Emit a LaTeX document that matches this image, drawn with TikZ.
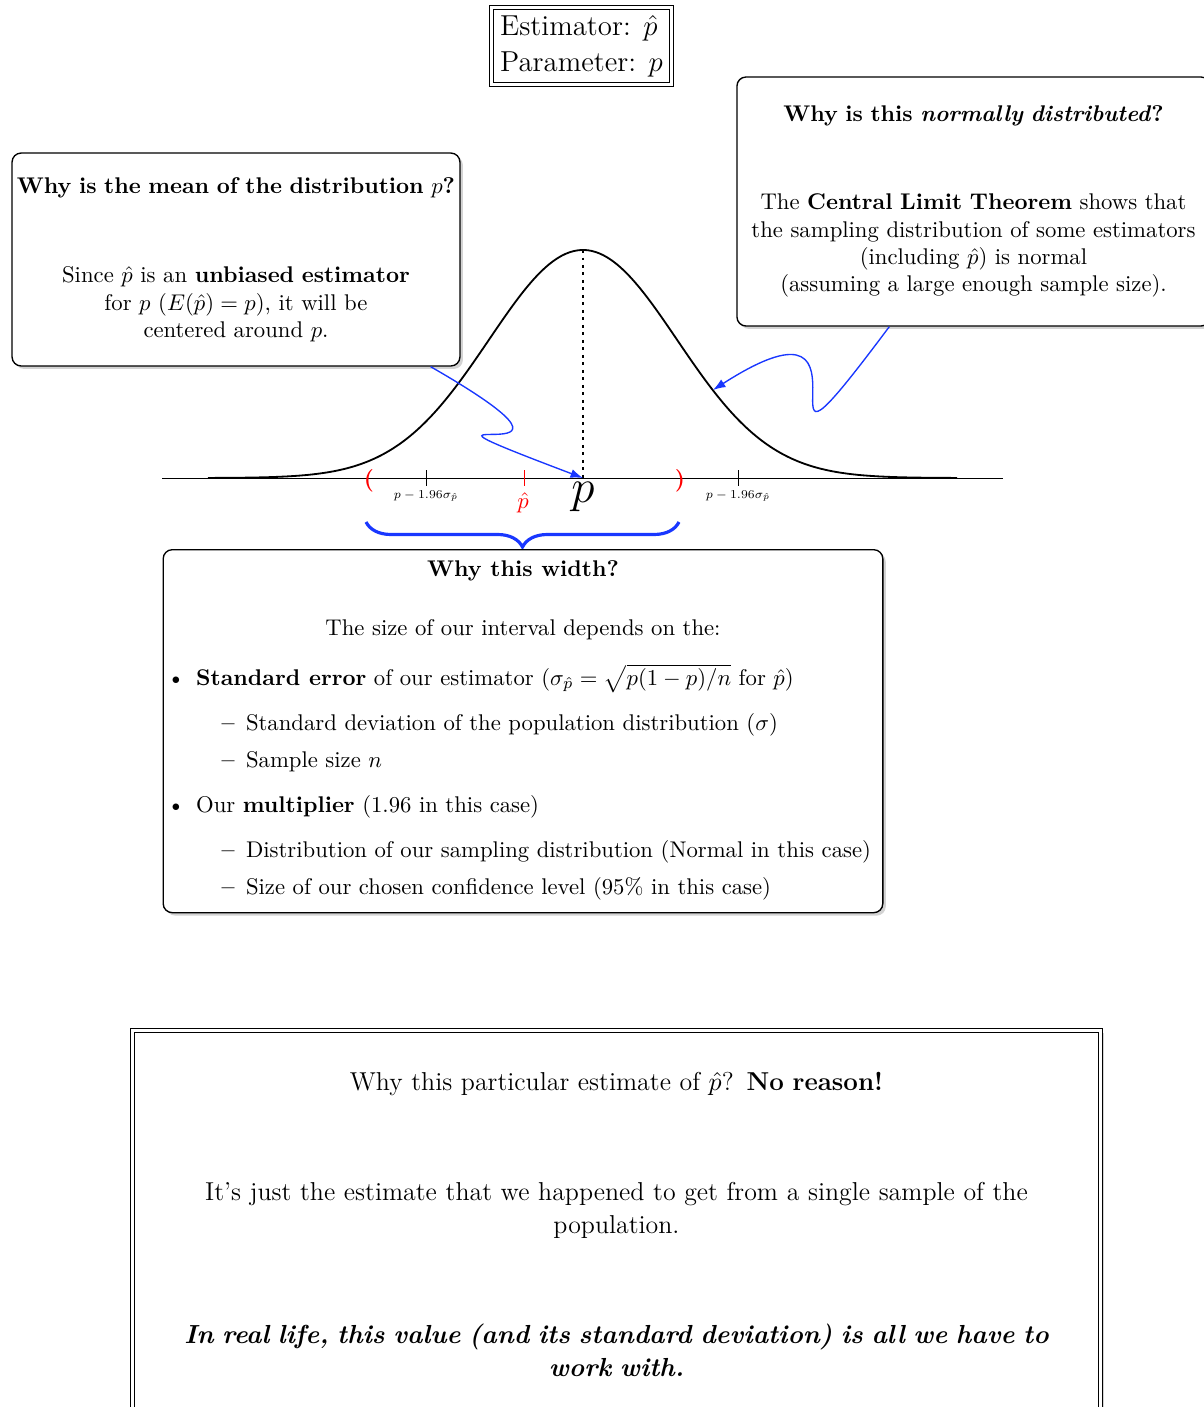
\documentclass[tikz,border=0pt]{standalone}
\usepackage{fix-cm}
\usepackage{amsmath}
\usepackage{tikz}
\usetikzlibrary{shadows,calc,decorations.pathreplacing,arrows.meta}

\definecolor{explainblue}{RGB}{25,55,255}

\begin{document}
\begin{tikzpicture}[x=0.4405pt, y=-0.4405pt,
    infobox/.style={draw, semithick, rounded corners=4pt, fill=white,
      drop shadow={opacity=0.35, shadow xshift=1.3pt, shadow yshift=-1.3pt}},
    framebox/.style={draw, line width=0.5pt, double, double distance=1.2pt, fill=white,
      drop shadow={opacity=0.35, shadow xshift=1.3pt, shadow yshift=-1.3pt}},
    explain/.style={explainblue, semithick, -{Latex[length=5.5pt,width=4pt]}},
    intervalbrace/.style={explainblue, line width=1.4pt, decorate,
      decoration={brace, amplitude=11pt}},
    axlabel/.style={font=\scriptsize, inner sep=1pt}]
        \useasboundingbox (0,0) rectangle (1204,1407);

        % estimator / parameter
        \node[framebox, align=left, minimum width=79.3pt, minimum height=32.2pt,
              font=\fontsize{12.7}{15.9}\selectfont] (est) at (581.5,46)
            {Estimator: $\hat p$\\Parameter: $p$};

        % sampling distribution
        \coordinate (peak) at (583,250);
        \coordinate (pbase) at (583,478);
        \coordinate (curvept) at (713,390);
        \draw (162,478) -- (1003,478);
        \draw[thick] plot[domain=208:957, samples=200, smooth]
            (\x, {478-228*exp(-0.5*((\x-583)/94)^2)});
        \draw[dotted, line width=1.3pt] (peak) -- (pbase);

        \draw (426,470) -- (426,486);
        \draw (738,470) -- (738,486);
        \draw[red] (524,470) -- (524,486);
        \node[axlabel] (lolab) at (426,496) {\scalebox{0.76}{$p-1.96\sigma_{\hat p}$}};
        \node[axlabel] (hilab) at (738,496) {\scalebox{0.76}{$p-1.96\sigma_{\hat p}$}};
        \node[red] (phatlab) at (523,503) {$\hat p$};
        \node (plab) at (583,497) {\huge $p$};
        \node[red, font=\bfseries] (lparen) at (369,481) {(};
        \node[red, font=\bfseries] (rparen) at (680,481) {)};

        % the interval
        \coordinate (lbr) at (366,522);
        \coordinate (rbr) at (679,522);
        \draw[intervalbrace] (rbr) -- (lbr);

        % questions
        \node[infobox, text width=196pt, align=center, minimum width=197.3pt,
              minimum height=93.8pt, inner sep=0.6pt] (meanbox) at (236,259.5)
            {\textbf{Why is the mean of the distribution $p$?}\\[27.6pt]
             Since $\hat p$ is an \textbf{unbiased estimator}\\
             for $p$ (${E(\hat p)=p}$), it will be\\
             centered around $p$.};

        \node[infobox, text width=200pt, align=center, minimum width=208.4pt,
              minimum height=109.7pt] (normbox) at (973.5,201.5)
            {\textbf{Why is this \textit{normally distributed}?}\\[26.8pt]
             The \textbf{Central Limit Theorem} shows that\\
             the sampling distribution of some estimators\\
             (including $\hat p$) is normal\\
             (assuming a large enough sample size).};

        \node[infobox, inner sep=3pt, anchor=north] (widthbox) at (523,549)
            {\begin{minipage}[c][153.9pt][t]{311pt}
             \vspace*{1.8pt}
             {\centering\textbf{Why this width?}\\[14pt]
              The size of our interval depends on the:\par}
             \setlength{\leftmargini}{11.5pt}
             \begin{itemize}
             \item \textbf{Standard error} of our estimator
                   ($\sigma_{\hat p}=\sqrt{p(1-p)/n}$ for $\hat p$)
               \begin{itemize}
               \item Standard deviation of the population distribution ($\sigma$)
               \item Sample size $n$
               \end{itemize}
             \item Our \textbf{multiplier} (1.96 in this case)
               \begin{itemize}
               \item Distribution of our sampling distribution (Normal in this case)
               \item Size of our chosen confidence level (95\% in this case)
               \end{itemize}
             \end{itemize}
             \end{minipage}};

        \draw[explain] ($(meanbox.south east)+(-30,0)$)
            .. controls (645,490) and (345,388) .. (pbase);
        \draw[explain] ($(normbox.south west)+(153,0)$)
            .. controls (730,540) and (900,270) .. (curvept);

        % the estimate itself
        \node[framebox, text width=420pt, align=center, minimum width=425.5pt,
              minimum height=170.5pt, font=\fontsize{11.4}{14.5}\selectfont]
              (lastbox) at (616.5,1224)
            {Why this particular estimate of $\hat p$? \textbf{No reason!}\\[34pt]
             It's just the estimate that we happened to get from a single sample of the\\
             population.\\[34pt]
             {\fontsize{11.5}{14.5}\selectfont\bfseries\itshape In real life, this value (and its standard deviation) is all we have to\\
             work with.}};
\end{tikzpicture}
\end{document}
